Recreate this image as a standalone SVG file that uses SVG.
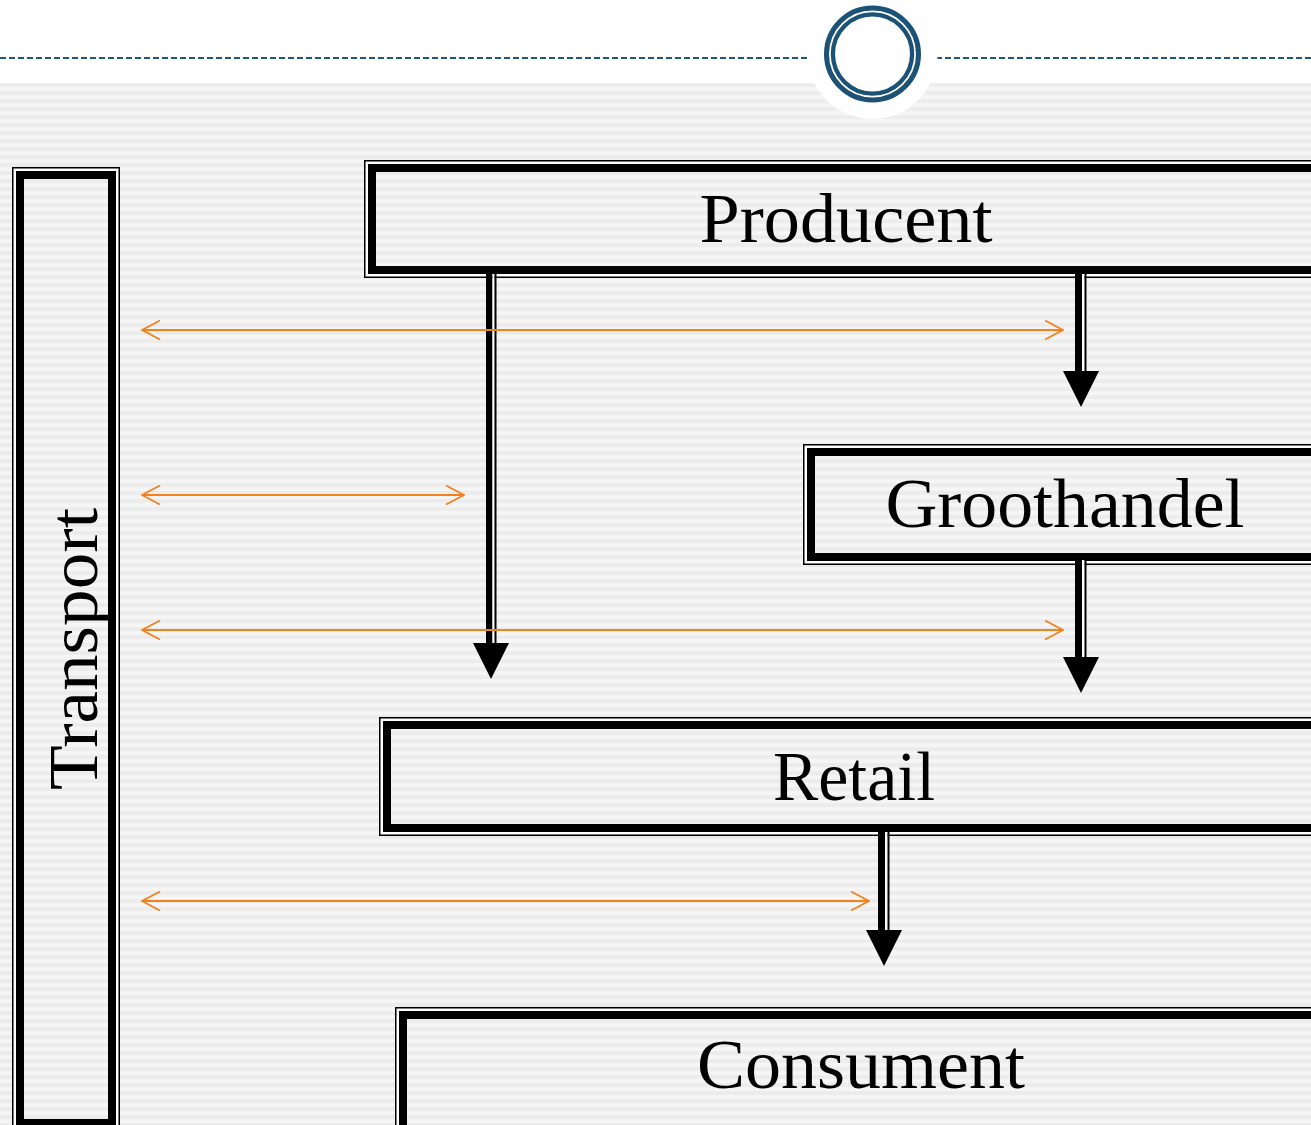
<svg xmlns="http://www.w3.org/2000/svg" width="1311" height="1125" viewBox="0 0 1311 1125">
<defs>
<pattern id="stripes" x="0" y="83" width="8" height="8" patternUnits="userSpaceOnUse">
<rect x="0" y="0" width="8" height="8" fill="#f5f5f5"/>
<rect x="0" y="0" width="8" height="4" fill="#ececec"/>
</pattern>
<marker id="oa" viewBox="0 0 20 20" refX="19" refY="10" markerWidth="20" markerHeight="20" markerUnits="userSpaceOnUse" orient="auto-start-reverse">
<path d="M1,0.5 L19,10 L1,19.5" fill="none" stroke="#f0831e" stroke-width="1.8"/>
</marker>
</defs>
<style>
.wb{fill:none;stroke:#ffffff;stroke-width:2.5}
.tn{fill:none;stroke:#000000;stroke-width:1.5}
.tk{fill:none;stroke:#000000;stroke-width:8}
.lbl{font-family:"Liberation Serif","Times New Roman",serif;font-size:70px;fill:#000000;text-anchor:middle}
.oline{fill:none;stroke:#f0831e;stroke-width:1.8;marker-start:url(#oa);marker-end:url(#oa)}
</style>
<rect x="0" y="0" width="1311" height="1125" fill="#ffffff"/>
<rect x="0" y="83" width="1311" height="1042" fill="url(#stripes)"/>
<g id="header">
<line x1="0" y1="58" x2="1311" y2="58" stroke="#1f5878" stroke-width="2" stroke-dasharray="6 3"/>
<circle cx="872.5" cy="54" r="65" fill="#ffffff"/>
<circle cx="872.5" cy="54" r="46" fill="none" stroke="#1c5275" stroke-width="5"/>
<circle cx="872.5" cy="54" r="39.6" fill="none" stroke="#1c5275" stroke-width="4.3"/>
</g>
<g id="transport">
<rect class="wb" x="14.75" y="169.75" width="102.5" height="958.5"/>
<rect class="tn" x="12.75" y="167.75" width="106.5" height="962.5"/>
<rect class="tk" x="20" y="175" width="92" height="948"/>
<text class="lbl" transform="translate(97,649) rotate(-90)" x="0" y="0" textLength="282" lengthAdjust="spacingAndGlyphs">Transport</text>
</g>
<g id="producent">
<rect class="wb" x="366.75" y="162.75" width="970.5" height="112.5"/>
<rect class="tn" x="364.75" y="160.75" width="974.5" height="116.5"/>
<rect class="tk" x="372" y="168" width="960" height="102"/>
<text class="lbl" x="846" y="242" textLength="293" lengthAdjust="spacingAndGlyphs">Producent</text>
</g>
<g id="groothandel">
<rect class="wb" x="805.75" y="446.75" width="531.5" height="115.5"/>
<rect class="tn" x="803.75" y="444.75" width="535.5" height="119.5"/>
<rect class="tk" x="811" y="452" width="521" height="105"/>
<text class="lbl" x="1065" y="527" textLength="359" lengthAdjust="spacingAndGlyphs">Groothandel</text>
</g>
<g id="retail">
<rect class="wb" x="381.75" y="719.75" width="955.5" height="113.5"/>
<rect class="tn" x="379.75" y="717.75" width="959.5" height="117.5"/>
<rect class="tk" x="387" y="725" width="945" height="103"/>
<text class="lbl" x="854" y="800" textLength="162" lengthAdjust="spacingAndGlyphs">Retail</text>
</g>
<g id="consument">
<rect class="wb" x="397.75" y="1009.75" width="939.5" height="127.5"/>
<rect class="tn" x="395.75" y="1007.75" width="943.5" height="131.5"/>
<rect class="tk" x="403" y="1015" width="929" height="117"/>
<text class="lbl" x="861" y="1088" textLength="328" lengthAdjust="spacingAndGlyphs">Consument</text>
</g>
<g id="connectors">
<g id="flow-arrows" fill="#000000">
<rect x="486" y="274" width="6.5" height="370"/>
<rect x="492.5" y="274" width="2" height="370" fill="#ffffff"/>
<rect x="494.5" y="274" width="2" height="370"/>
<polygon points="473,643 509,643 491,679"/>
<rect x="1075" y="274" width="7" height="98"/>
<rect x="1082" y="274" width="2.5" height="98" fill="#ffffff"/>
<rect x="1084.5" y="274" width="2" height="98"/>
<polygon points="1063,371 1099,371 1081,407"/>
<rect x="1075" y="560" width="7" height="98"/>
<rect x="1082" y="560" width="2.5" height="98" fill="#ffffff"/>
<rect x="1084.5" y="560" width="2" height="98"/>
<polygon points="1063,657 1099,657 1081,693"/>
<rect x="878" y="832" width="7" height="99"/>
<rect x="885" y="832" width="2.5" height="99" fill="#ffffff"/>
<rect x="887.5" y="832" width="2" height="99"/>
<polygon points="866,930 902,930 884,966"/>
</g>
<g id="transport-links">
<path class="oline" d="M142,330 H1063"/>
<path class="oline" d="M142,495 H464"/>
<path class="oline" d="M142,630 H1063"/>
<path class="oline" d="M142,901 H869"/>
</g>
</g>
</svg>
